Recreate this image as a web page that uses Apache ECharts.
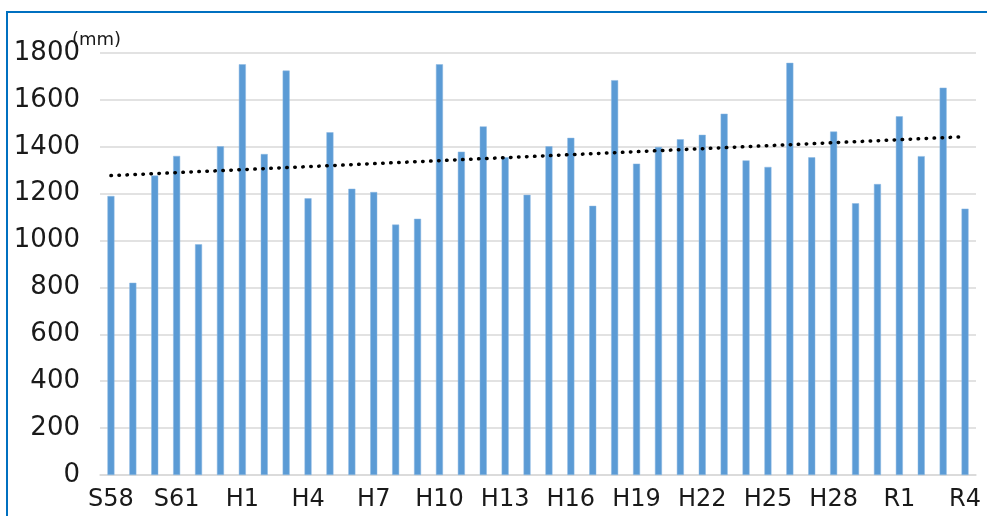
<!DOCTYPE html>
<html>
<head>
<meta charset="utf-8">
<script src="https://cdn.jsdelivr.net/npm/echarts@6/dist/echarts.min.js"></script>
<style>
html, body { margin: 0; padding: 0; background: #fff; }
#wrap { position: relative; width: 987px; height: 516px; overflow: hidden; }
#chart { width: 987px; height: 516px; }
#frame { position: absolute; left: 6px; top: 11px; width: 1200px; height: 800px;
  border-left: 2px solid #0070C0; border-top: 2px solid #0070C0; pointer-events: none; }
</style>
</head>
<body>
<div id="wrap">
  <div id="chart"></div>
  <div id="frame"></div>
</div>
<script>
// years S58 .. R4
let years = ['S58', 'S59', 'S60', 'S61', 'S62', 'S63',
  'H1', 'H2', 'H3', 'H4', 'H5', 'H6', 'H7', 'H8', 'H9', 'H10',
  'H11', 'H12', 'H13', 'H14', 'H15', 'H16', 'H17', 'H18', 'H19', 'H20',
  'H21', 'H22', 'H23', 'H24', 'H25', 'H26', 'H27', 'H28', 'H29', 'H30',
  'R1', 'R2', 'R3', 'R4'];

// annual rainfall (mm)
let rainfall = [1190, 820, 1277, 1361, 984, 1402,
  1752, 1369, 1725, 1180, 1462, 1221, 1207, 1068, 1093, 1752,
  1379, 1487, 1355, 1195, 1402, 1438, 1148, 1684, 1328, 1399,
  1432, 1451, 1541, 1342, 1314, 1758, 1355, 1465, 1159, 1241,
  1530, 1360, 1652, 1136];

// trend line ends
let trendStart = 1277;
let trendEnd = 1443;

let chart = echarts.init(document.getElementById('chart'));
let option = {
    backgroundColor: '#fff',
    animation: false,
    grid: {left: 100, right: 11, top: 53, bottom: 41},
    graphic: [{
        type: 'text',
        left: 72,
        top: 31,
        z: 10,
        style: {text: '(mm)', fill: '#1a1a1a', font: '18px "DejaVu Sans"'}
    }],
    xAxis: {
        type: 'category',
        data: years,
        axisLine: {lineStyle: {color: '#d9d9d9', width: 1.5}},
        axisTick: {show: false},
        axisLabel: {
            interval: 2,
            margin: 13,
            color: '#1a1a1a',
            fontSize: 24,
            fontFamily: 'DejaVu Sans'
        }
    },
    yAxis: {
        type: 'value',
        min: 0,
        max: 1800,
        interval: 200,
        axisLine: {show: false},
        axisTick: {show: false},
        splitLine: {lineStyle: {color: '#d9d9d9', width: 1.5}},
        axisLabel: {
            margin: 20,
            color: '#1a1a1a',
            fontSize: 26,
            fontFamily: 'DejaVu Sans',
            formatter: function (v) { return String(v); }
        }
    },
    series: [{
        name: '降水量',
        type: 'bar',
        barWidth: 7,
        data: rainfall,
        itemStyle: {color: '#5B9BD5', borderColor: '#8DB8E3', borderWidth: 0.5},
        markLine: {
            silent: true,
            symbol: ['none', 'none'],
            label: {show: false},
            lineStyle: {color: '#000', width: 3.5, type: [0.5, 7.5], cap: 'round'},
            data: [[
                {coord: [years[0], trendStart]},
                {coord: [years[years.length - 1], trendEnd]}
            ]]
        }
    }]
};
chart.setOption(option);
</script>
</body>
</html>
